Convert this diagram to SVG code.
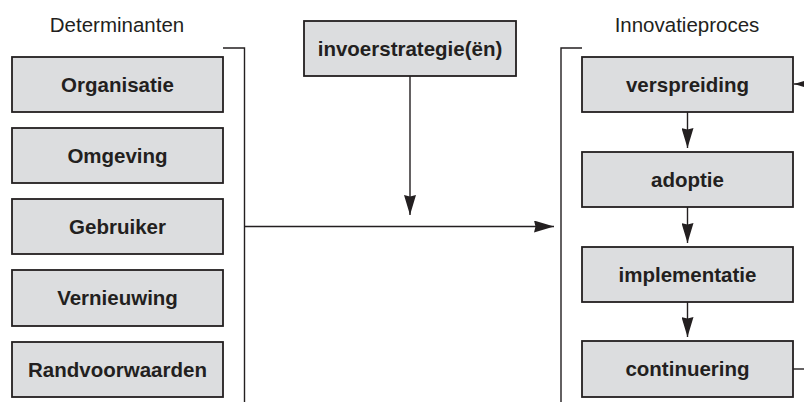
<svg xmlns="http://www.w3.org/2000/svg" width="804" height="402" viewBox="0 0 804 402">
<style>
.box{fill:#dcdddf;stroke:#231f20;stroke-width:1.8}
.lbl{font-family:"Liberation Sans",Arial,sans-serif;font-weight:bold;font-size:20.5px;fill:#231f20;text-anchor:middle}
.ttl{font-family:"Liberation Sans",Arial,sans-serif;font-size:20.5px;fill:#231f20;text-anchor:middle}
.ln{fill:none;stroke:#231f20;stroke-width:1.4}
</style>
<defs>
<marker id="ah" viewBox="0 0 20 12" refX="20" refY="6" markerWidth="20" markerHeight="12" markerUnits="userSpaceOnUse" orient="auto">
<path d="M0,0 L20,6 L0,12 L1.5,6 Z" fill="#231f20"/>
</marker>
</defs>
<rect width="804" height="402" fill="#ffffff"/>
<text class="ttl" x="117" y="32">Determinanten</text>
<text class="ttl" x="687" y="32">Innovatieproces</text>
<g id="n-organisatie"><rect class="box" x="12" y="57" width="211" height="55"/><text class="lbl" x="117.5" y="92">Organisatie</text></g>
<g id="n-omgeving"><rect class="box" x="12" y="128" width="211" height="55"/><text class="lbl" x="117.5" y="163">Omgeving</text></g>
<g id="n-gebruiker"><rect class="box" x="12" y="199" width="211" height="55"/><text class="lbl" x="117.5" y="234">Gebruiker</text></g>
<g id="n-vernieuwing"><rect class="box" x="12" y="270" width="211" height="56"/><text class="lbl" x="117.5" y="305">Vernieuwing</text></g>
<g id="n-randvoorwaarden"><rect class="box" x="12" y="342" width="211" height="55"/><text class="lbl" x="117.5" y="377">Randvoorwaarden</text></g>
<g id="n-invoer"><rect class="box" x="304" y="21" width="212" height="55"/><text class="lbl" x="410" y="56">invoerstrategie(ën)</text></g>
<g id="n-verspreiding"><rect class="box" x="582" y="57" width="211" height="55"/><text class="lbl" x="687.5" y="92">verspreiding</text></g>
<g id="n-adoptie"><rect class="box" x="582" y="152" width="211" height="55"/><text class="lbl" x="687.5" y="187">adoptie</text></g>
<g id="n-implementatie"><rect class="box" x="582" y="247" width="211" height="55"/><text class="lbl" x="687.5" y="282">implementatie</text></g>
<g id="n-continuering"><rect class="box" x="582" y="341" width="211" height="56"/><text class="lbl" x="687.5" y="376">continuering</text></g>
<g id="connectors">
<path class="ln" d="M223,48 H244.5 V402"/>
<path class="ln" d="M582,48 H561 V402"/>
<path class="ln" d="M244.5,226.5 H554" marker-end="url(#ah)"/>
<path class="ln" d="M410,76 V215" marker-end="url(#ah)"/>
<path class="ln" d="M687.5,112 V148" marker-end="url(#ah)"/>
<path class="ln" d="M687.5,207 V243" marker-end="url(#ah)"/>
<path class="ln" d="M687.5,302 V337" marker-end="url(#ah)"/>
<path class="ln" d="M812,84 H794" marker-end="url(#ah)"/>
<path class="ln" d="M793,369 H804"/>
</g>
</svg>
